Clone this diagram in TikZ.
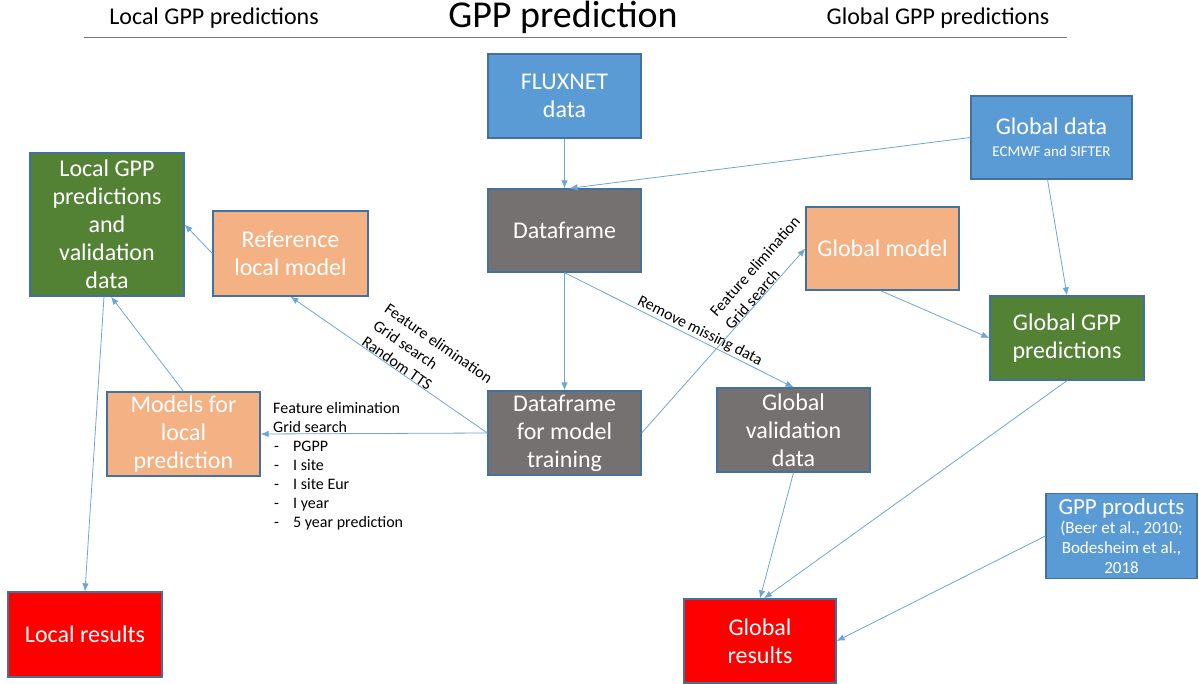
\documentclass[tikz,border=0pt]{standalone}
\usepackage{fontspec}
\setmainfont{Carlito}
\usetikzlibrary{positioning,arrows.meta}
\definecolor{boxblue}{RGB}{91,155,213}
\definecolor{boxedge}{RGB}{65,113,156}
\definecolor{boxgray}{RGB}{118,113,113}
\definecolor{boxorange}{RGB}{244,177,131}
\definecolor{boxgreen}{RGB}{84,130,53}
\definecolor{boxred}{RGB}{255,0,0}
\definecolor{linkblue}{RGB}{110,165,215}
\definecolor{rulegray}{RGB}{120,120,120}

\begin{document}
\begin{tikzpicture}[x=1pt,y=-1pt,
    box/.style={draw=boxedge,line width=1.3pt,text=white,align=center,
        minimum width=153pt,minimum height=84pt,inner sep=2pt,
        font=\fontsize{24}{28}\selectfont},
    bluebox/.style={box,fill=boxblue},
    graybox/.style={box,fill=boxgray},
    orangebox/.style={box,fill=boxorange},
    greenbox/.style={box,fill=boxgreen},
    redbox/.style={box,fill=boxred},
    link/.style={-{Latex[length=8pt,width=6.5pt]},draw=linkblue,line width=0.8pt},
    steplabel/.style={font=\fontsize{16}{19}\selectfont,align=left,inner sep=0pt},
    slopelabel/.style={steplabel,sloped,above,font=\fontsize{16}{20}\selectfont}]
    \useasboundingbox (0,0) rectangle (1199,684);
    % heading
    \node (title) at (563,17) {\fontsize{38}{42}\selectfont GPP prediction};
    \node (localhead) at (214,18) {\fontsize{24}{28}\selectfont Local GPP predictions};
    \node (globalhead) at (938,18) {\fontsize{24}{28}\selectfont Global GPP predictions};
    \draw[rulegray,line width=1pt] (84,38) -- (1067,38);
    % data sources
    \node[bluebox] (fluxnet) at (564.5,96) {FLUXNET\\data};
    \node[bluebox,minimum width=161pt,minimum height=83pt] (globaldata) at (1051.5,137.5)
        {Global data\\[-6pt]{\fontsize{15}{18}\selectfont ECMWF and SIFTER}};
    \node[bluebox,minimum width=151pt,minimum height=85pt,inner sep=0pt,
          font=\fontsize{17}{20}\selectfont] (products) at (1121.5,536)
        {{\fontsize{23}{26}\selectfont GPP products}\\[-1pt]
         (Beer et al., 2010;\\Bodesheim et al.,\\2018};
    % data frames
    \node[graybox,minimum height=83pt] (dataframe) at (564.5,230.5) {Dataframe};
    \node[graybox] (training) at (564.5,433) {Dataframe\\for model\\training};
    \node[graybox] (globalval) at (793.5,430) {Global\\validation\\data};
    % models
    \node[orangebox,minimum width=155pt,minimum height=85pt] (reflocal) at (290.5,253.5) {Reference\\local model};
    \node[orangebox,minimum height=83pt] (globalmodel) at (882.5,248.5) {Global model};
    \node[orangebox] (localmodels) at (183.5,434) {Models for\\local\\prediction};
    % predictions
    \node[greenbox,minimum width=154pt,minimum height=143pt] (localpred) at (107,224.5)
        {Local GPP\\predictions\\and\\validation\\data};
    \node[greenbox,minimum width=154pt] (globalpred) at (1067,338) {Global GPP\\predictions};
    % results
    \node[redbox,minimum width=154pt,minimum height=85pt] (localres) at (85,634.5) {Local results};
    \node[redbox,minimum width=152pt] (globalres) at (760,641) {Global\\results};

    % connectors
    \draw[link] (fluxnet) -- (dataframe);
    \draw[link] (globaldata.west) -- ([xshift=5pt]dataframe.north);
    \draw[link] ([xshift=-4pt]globaldata.south) -- (globalpred.north);
    \draw[link] ([xshift=-2pt]globalmodel.south) -- (globalpred.west);
    \draw[link] (dataframe) -- (training);
    \draw[link] (dataframe.south) -- (globalval.north)
        node[slopelabel,pos=0.575,inner sep=1pt] {Remove missing data};
    \draw[link] (training.east) -- (globalmodel.west)
        node[slopelabel,pos=0.81] {Feature elimination\\Grid search};
    \draw[link] (training.west) -- (reflocal.south)
        node[slopelabel,pos=0.38] {Feature elimination\\Grid search\\Random TTS};
    \draw[link] (training.west) -- (localmodels.east);
    \draw[link] (reflocal.west) -- (localpred.east);
    \draw[link] (localmodels.north) -- ([xshift=4pt]localpred.south);
    \draw[link] ([xshift=-3pt]localpred.south) -- (localres.north);
    \draw[link] (globalval.south) -- (globalres.north);
    \draw[link] (globalpred.south) -- ([xshift=4pt]globalres.north);
    \draw[link] (products.west) -- (globalres.east);

    % local training options
    \node[steplabel,anchor=base west] (options) at (273,432)
        {Feature elimination\\Grid search};
    \foreach \opt [count=\oi] in {PGPP,I site,I site Eur,I year,5 year prediction}{
        \node[steplabel,anchor=base west] (opt\oi) at (274,432+19*\oi)
            {\makebox[19pt][l]{-}\opt};
    }
\end{tikzpicture}
\end{document}
